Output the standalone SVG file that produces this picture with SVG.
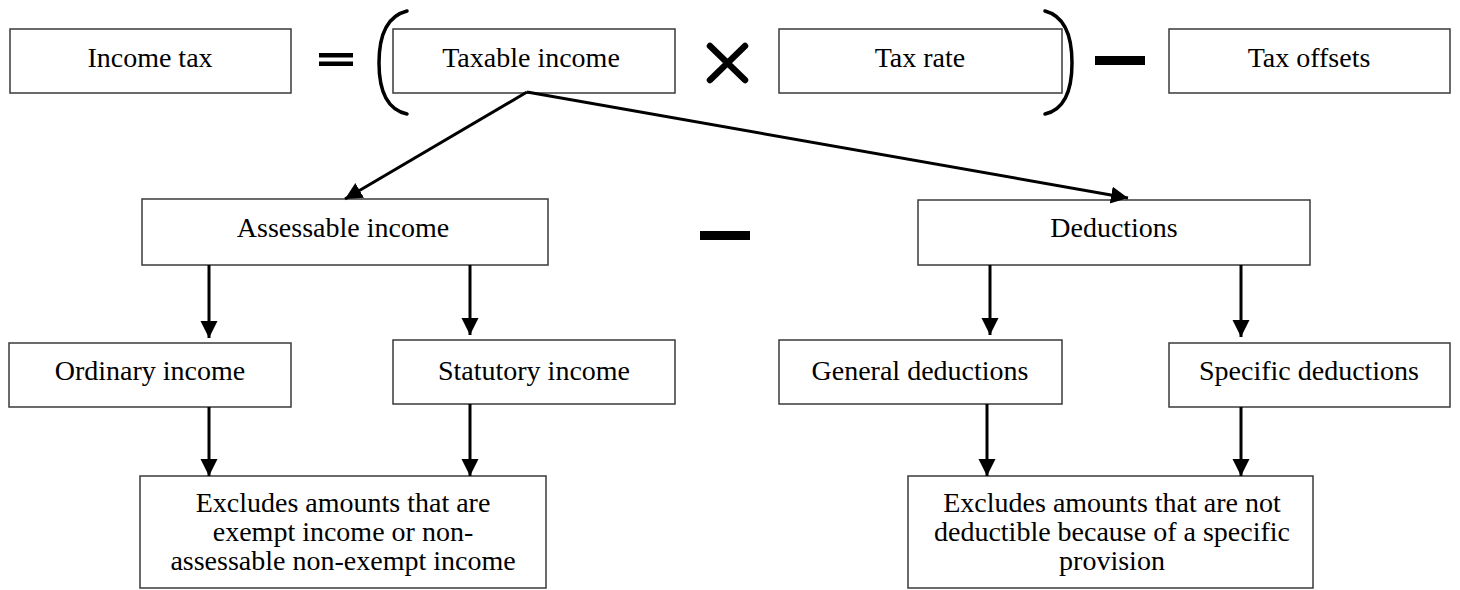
<svg xmlns="http://www.w3.org/2000/svg" width="1460" height="590" viewBox="0 0 1460 590">
<style>
.box{fill:#fff;stroke:#3a3a3a;stroke-width:1.5}
.t{font-family:"Liberation Serif","Times New Roman",serif;font-size:28px;fill:#000;text-anchor:middle}
.conn{stroke:#000;stroke-width:3;fill:none}
.sym{fill:#000}
.br{stroke:#000;stroke-width:3.5;fill:none;stroke-linecap:round}
</style>
<defs>
<marker id="ah" markerWidth="20" markerHeight="20" refX="17" refY="8.5" orient="auto" markerUnits="userSpaceOnUse">
<path d="M0,0 L17,8.5 L0,17 Z" fill="#000"/>
</marker>
</defs>
<rect width="1460" height="590" fill="#fff"/>

<g id="income-tax"><rect class="box" x="10" y="29" width="281" height="64"/><text class="t" x="150" y="67">Income tax</text></g>
<g id="taxable-income"><rect class="box" x="393" y="29" width="282" height="64"/><text class="t" x="531" y="67">Taxable income</text></g>
<g id="tax-rate"><rect class="box" x="779" y="29" width="283" height="64"/><text class="t" x="920" y="67">Tax rate</text></g>
<g id="tax-offsets"><rect class="box" x="1169" y="29" width="281" height="64"/><text class="t" x="1309" y="67">Tax offsets</text></g>

<g id="operators">
<rect class="sym" x="319" y="53" width="34" height="4.5"/>
<rect class="sym" x="319" y="61.5" width="34" height="4.5"/>
<path class="br" d="M407,11 Q379,18 379,63 Q379,108 407,114"/>
<path d="M710,46 L745,80 M745,46 L710,80" stroke="#000" stroke-width="6.5" stroke-linecap="round"/>
<path class="br" d="M1045,11 Q1072,18 1072,63 Q1072,108 1045,114"/>
<rect class="sym" x="1095" y="56" width="50" height="9"/>
<rect class="sym" x="700" y="231" width="50" height="9"/>
</g>

<g id="assessable-income"><rect class="box" x="142" y="199" width="406" height="66"/><text class="t" x="343" y="237">Assessable income</text></g>
<g id="deductions"><rect class="box" x="918" y="200" width="392" height="65"/><text class="t" x="1114" y="237">Deductions</text></g>

<g id="ordinary-income"><rect class="box" x="9" y="343" width="282" height="64"/><text class="t" x="150" y="380">Ordinary income</text></g>
<g id="statutory-income"><rect class="box" x="393" y="340" width="282" height="64"/><text class="t" x="534" y="380">Statutory income</text></g>
<g id="general-deductions"><rect class="box" x="779" y="340" width="283" height="64"/><text class="t" x="920" y="380">General deductions</text></g>
<g id="specific-deductions"><rect class="box" x="1169" y="343" width="281" height="64"/><text class="t" x="1309" y="380">Specific deductions</text></g>

<g id="income-exclusions"><rect class="box" x="140" y="476" width="406" height="112"/>
<text class="t" x="343" y="512">Excludes amounts that are</text>
<text class="t" x="343" y="541">exempt income or non-</text>
<text class="t" x="343" y="570">assessable non-exempt income</text></g>
<g id="deduction-exclusions"><rect class="box" x="908" y="476" width="405" height="112"/>
<text class="t" x="1112" y="512">Excludes amounts that are not</text>
<text class="t" x="1112" y="541">deductible because of a specific</text>
<text class="t" x="1112" y="570">provision</text></g>

<g id="connectors">
<line class="conn" x1="527" y1="92" x2="345" y2="199" marker-end="url(#ah)"/>
<line class="conn" x1="527" y1="92" x2="1128" y2="198" marker-end="url(#ah)"/>
<line class="conn" x1="209" y1="265" x2="209" y2="338" marker-end="url(#ah)"/>
<line class="conn" x1="470" y1="265" x2="470" y2="335" marker-end="url(#ah)"/>
<line class="conn" x1="990" y1="265" x2="990" y2="335" marker-end="url(#ah)"/>
<line class="conn" x1="1241" y1="265" x2="1241" y2="337" marker-end="url(#ah)"/>
<line class="conn" x1="209" y1="407" x2="209" y2="476" marker-end="url(#ah)"/>
<line class="conn" x1="470" y1="404" x2="470" y2="476" marker-end="url(#ah)"/>
<line class="conn" x1="987" y1="404" x2="987" y2="476" marker-end="url(#ah)"/>
<line class="conn" x1="1241" y1="407" x2="1241" y2="476" marker-end="url(#ah)"/>
</g>
</svg>
